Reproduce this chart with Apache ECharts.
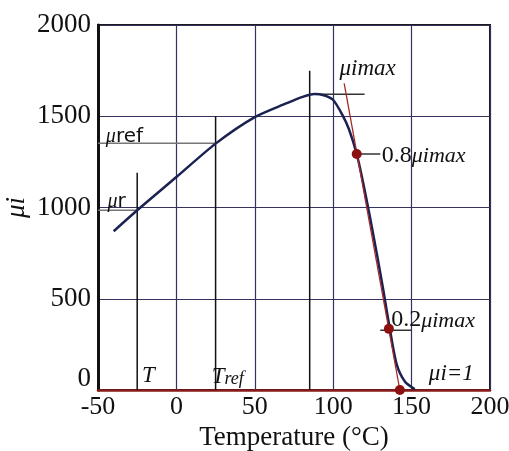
<!DOCTYPE html>
<html>
<head>
<meta charset="utf-8">
<script src="https://cdn.jsdelivr.net/npm/echarts@6/dist/echarts.min.js"></script>
<style>
  html, body { margin: 0; padding: 0; background: #fff; }
  #chart { width: 509px; height: 451px; }
</style>
</head>
<body>
<div id="chart"></div>
<script>
// axis ticks
const xTicks = [-50, 0, 50, 100, 150, 200]
const yTicks = [0, 500, 1000, 1500, 2000]

// permeability curve
const tempC = [-40, -25, 0, 25, 50, 70, 80, 88, 94, 100, 106, 110, 115, 119, 123.5, 128, 132, 136, 140.5, 145.8, 152]
const muI = [870, 985, 1167, 1350, 1495, 1570, 1605, 1622, 1615, 1589, 1505, 1430, 1293, 1140, 945, 738, 545, 340, 140, 45, 5]

// red tangent through the 0.8 / 0.2 points
const tangentX = [107, 142.5]
const tangentY = [1680, 0]
const dotX = [115, 135.5, 142.5]
const dotY = [1293, 335, 0]

// helper guide segments [x0, y0, x1, y1]
const guideT = [-25, 0, -25, 1190]
const guideTref = [25, 0, 25, 1500]
const guidePeakV = [85, 0, 85, 1750]
const guidePeakH = [90, 1620, 120, 1620]
const guide08 = [115, 1293, 130, 1293]
const guide02 = [130, 328, 150, 328]
const guideMuRef = [-50, 1352, 25, 1352]
const guideMuR = [-50, 985, -25, 985]

// text notes, anchored at data points (left edge, middle)
const noteX = [104, 131, 137, 161, -22, 22.5, -45, -44]
const noteY = [1760, 1285, 384, 90, 75, 70, 1385, 1030]
const noteText = [
  '{it|μimax}',
  '{n|0.8}{sub|μimax}',
  '{n|0.2}{sub|μimax}',
  '{it|μi=1}',
  '{it|T}',
  '{it|T}{sb|ref}',
  '{mu|μ}{sans|ref}',
  '{mu|μ}{sans|r}'
]

const serif = 'Liberation Serif'

function seg(g) {
  return [[g[0], g[1]], [g[2], g[3]]]
}

function guideSeries(g, color) {
  return {
    type: 'line',
    data: seg(g),
    symbol: 'none',
    silent: true,
    lineStyle: { color: color, width: 1.5 },
    z: 3
  }
}

const chart = echarts.init(document.getElementById('chart'), null, { renderer: 'canvas' })

chart.setOption({
  animation: false,
  backgroundColor: '#fff',
  grid: {
    left: 98,
    right: 19,
    top: 25,
    bottom: 61,
    outerBoundsMode: 'none',
    show: true,
    borderColor: '#1a1a1a',
    borderWidth: 2
  },
  xAxis: {
    type: 'value',
    min: xTicks[0],
    max: xTicks[xTicks.length - 1],
    interval: 50,
    name: 'Temperature (°C)',
    nameLocation: 'middle',
    nameGap: 34,
    nameMoveOverlap: false,
    nameTextStyle: { fontFamily: serif, fontSize: 27, color: '#111' },
    axisLine: { show: true, onZero: false, lineStyle: { color: '#8b1a1a', width: 2.5 } },
    axisTick: { show: false },
    axisLabel: { margin: 4, fontFamily: serif, fontSize: 26, color: '#111', formatter: v => String(v) },
    splitLine: { show: true, lineStyle: { color: '#33335e', width: 1.2 } }
  },
  yAxis: {
    type: 'value',
    min: yTicks[0],
    max: yTicks[yTicks.length - 1],
    interval: 500,
    name: 'μi',
    nameLocation: 'middle',
    nameRotate: 90,
    nameGap: 68,
    nameMoveOverlap: false,
    nameTextStyle: { fontFamily: serif, fontSize: 27, fontStyle: 'italic', color: '#111' },
    axisLine: { show: true, onZero: false, lineStyle: { color: '#111', width: 3 } },
    axisTick: { show: false },
    axisLabel: {
      margin: 7,
      fontFamily: serif,
      fontSize: 27,
      color: '#111',
      formatter: v => (v === 0 ? '{z|0}' : String(v)),
      rich: { z: { fontFamily: serif, fontSize: 27, color: '#111', padding: [0, 0, 22, 0] } }
    },
    splitLine: { show: true, lineStyle: { color: '#33335e', width: 1.2 } }
  },
  series: [
    guideSeries(guideT, '#111'),
    guideSeries(guideTref, '#111'),
    guideSeries(guidePeakV, '#111'),
    guideSeries(guidePeakH, '#333'),
    guideSeries(guide08, '#333'),
    guideSeries(guide02, '#333'),
    guideSeries(guideMuRef, '#777'),
    guideSeries(guideMuR, '#777'),
    {
      name: 'μi',
      type: 'line',
      data: tempC.map((t, i) => [t, muI[i]]),
      smooth: 0.25,
      symbol: 'none',
      lineStyle: { color: '#1b2150', width: 2.5 },
      z: 4
    },
    {
      type: 'line',
      data: tangentX.map((t, i) => [t, tangentY[i]]),
      symbol: 'none',
      lineStyle: { color: '#a52a2a', width: 1.3 },
      z: 5
    },
    {
      type: 'scatter',
      data: dotX.map((t, i) => [t, dotY[i]]),
      symbolSize: 10,
      itemStyle: { color: '#8b1010', opacity: 1 },
      z: 6
    },
    {
      type: 'scatter',
      symbolSize: 0,
      silent: true,
      z: 7,
      itemStyle: { opacity: 1 },
      data: noteX.map((t, i) => ({ value: [t, noteY[i]], label: { formatter: noteText[i] } })),
      label: {
        show: true,
        position: 'inside',
        align: 'left',
        verticalAlign: 'middle',
        color: '#111',
        rich: {
          it: { fontFamily: serif, fontStyle: 'italic', fontSize: 23, color: '#111' },
          n: { fontFamily: serif, fontSize: 24, lineHeight: 24, verticalAlign: 'top', color: '#111' },
          sub: { fontFamily: serif, fontStyle: 'italic', fontSize: 22, lineHeight: 22, verticalAlign: 'bottom', padding: [11, 0, 0, 0], color: '#111' },
          sb: { fontFamily: serif, fontStyle: 'italic', fontSize: 18, lineHeight: 18, verticalAlign: 'bottom', padding: [10, 0, 0, 0], color: '#111' },
          mu: { fontFamily: serif, fontStyle: 'italic', fontSize: 20, lineHeight: 20, verticalAlign: 'top', color: '#111' },
          sans: { fontFamily: 'DejaVu Sans', fontSize: 20, lineHeight: 20, verticalAlign: 'bottom', padding: [7, 0, 0, 0], color: '#111' }
        }
      }
    }
  ]
})
</script>
</body>
</html>
